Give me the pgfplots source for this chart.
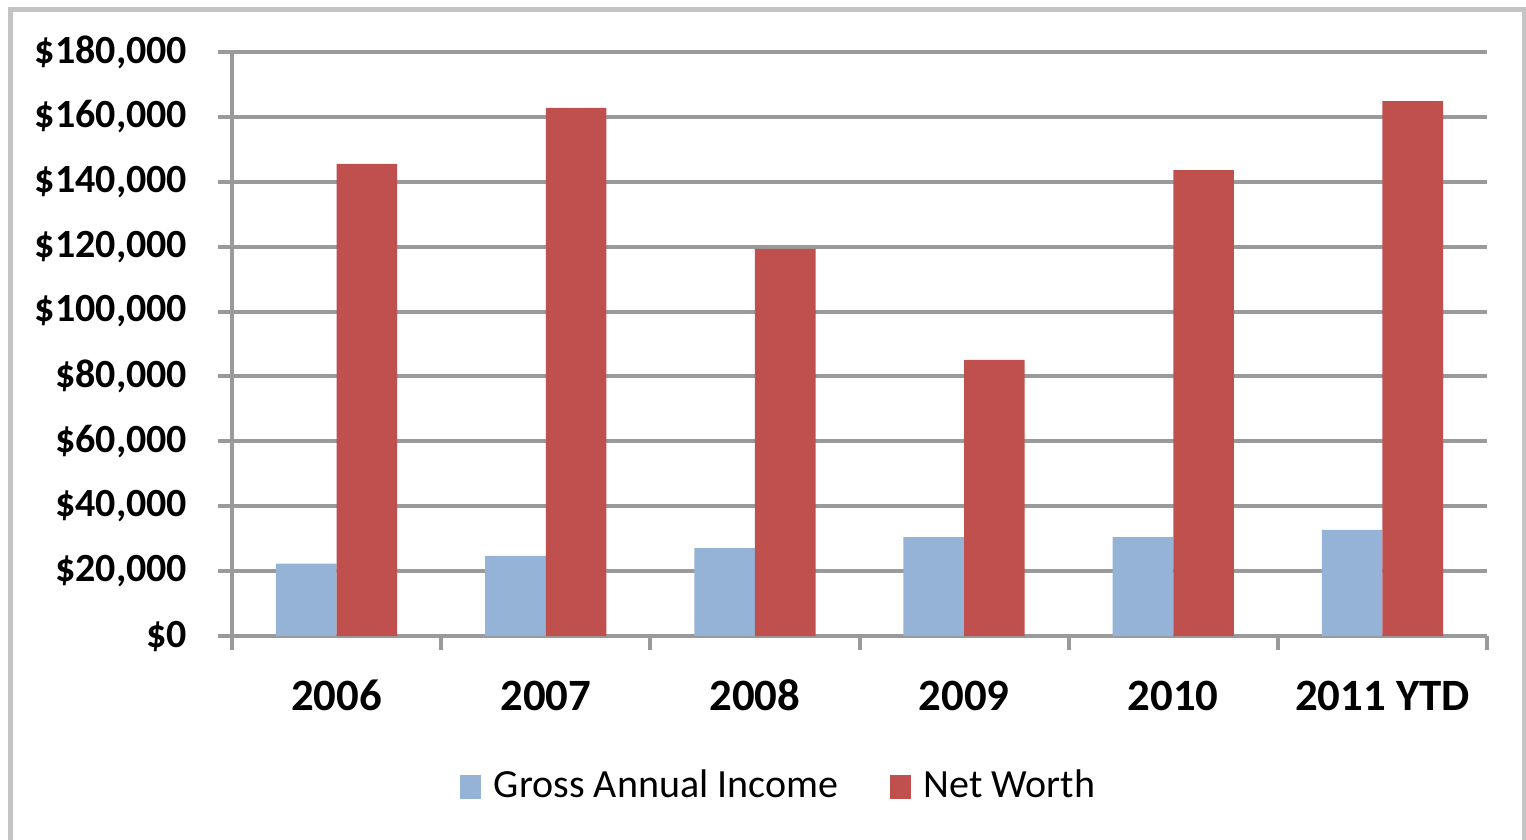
\documentclass[border=0pt]{standalone}
\usepackage{fontspec}
\setmainfont{Carlito}
\usepackage{pgfplots}
\pgfplotsset{compat=1.18}
\definecolor{incomeblue}{HTML}{95B3D7}
\definecolor{networthred}{HTML}{C0504D}
\definecolor{gridgray}{HTML}{9A9A9A}
\definecolor{framegray}{HTML}{C4C4C4}
\begin{document}
\begin{tikzpicture}
\useasboundingbox (0,0) rectangle (381.5pt,-209.75pt);
\draw[framegray, line width=1.3pt] (2.6pt,-2.3pt) rectangle (381.2pt,-230pt);
\begin{axis}[
  at={(58pt,-159pt)}, anchor=south west, scale only axis,
  width=313.75pt, height=146pt,
  ybar=0pt, bar width=0.29,
  xmin=-0.5, xmax=5.5, ymin=0, ymax=180000,
  axis x line*=bottom, axis y line*=left,
  axis line style={gridgray, line width=1pt},
  ytick={0,20000,...,180000},
  ymajorgrids, grid style={gridgray, line width=1pt},
  tick align=outside, major tick length=3.5pt,
  tick style={gridgray, line width=1pt},
  xtick={-0.5,0.5,...,5.5}, xticklabels={},
  extra x ticks={0,1,2,3,4,5},
  extra x tick labels={2006,2007,2008,2009,2010,2011 YTD},
  extra x tick style={major tick length=0pt, grid=none},
  xticklabel style={font=\fontsize{11.2}{13}\selectfont\bfseries, anchor=base, inner sep=0pt, yshift=-18.5pt},
  scaled y ticks=false,
  yticklabel={\$\pgfmathprintnumber{\tick}},
  yticklabel style={font=\fontsize{10}{12}\selectfont\bfseries, anchor=east, inner sep=0pt, xshift=-7.5pt,
    /pgf/number format/.cd, fixed, 1000 sep={,}, assume math mode=true},
  legend style={at={(0.438,-0.2586)}, anchor=center, draw=none, fill=none,
    legend columns=2, font=\fontsize{10}{12}\selectfont,
    /tikz/every even column/.append style={column sep=11pt},
    /tikz/every odd column/.append style={column sep=1.2pt}},
  legend image code/.code={\fill[#1] (0pt,-3pt) rectangle (5.25pt,3pt);},
]
\addplot[fill=incomeblue, draw=none] coordinates {(0,22300) (1,24700) (2,27100) (3,30500) (4,30500) (5,32700)};
\addplot[fill=networthred, draw=none] coordinates {(0,145500) (1,162800) (2,119300) (3,85100) (4,143600) (5,164900)};
\legend{Gross Annual Income, Net Worth}
\end{axis}
\end{tikzpicture}
\end{document}
